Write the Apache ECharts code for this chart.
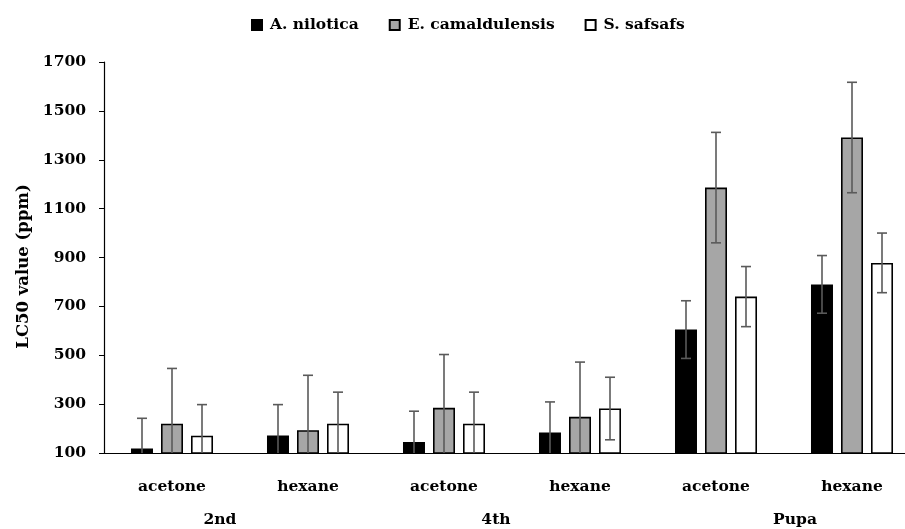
<!DOCTYPE html>
<html>
<head>
<meta charset="utf-8">
<script src="https://cdn.jsdelivr.net/npm/echarts@6/dist/echarts.min.js"></script>
<style>
  html, body { margin: 0; padding: 0; background: #fff; overflow: hidden; }
  /* the plot runs on past the right edge of the page, so the canvas is a little wider than the window */
  #chart { width: 920px; height: 529px; }
</style>
</head>
<body>
<div id="chart"></div>
<script>
// Solvent per bar group, and the larval stage each pair belongs to
const categories = ['acetone', 'hexane', 'acetone', 'hexane', 'acetone', 'hexane'];
const stages = ['2nd', '4th', 'Pupa'];
const stagePositions = [0.853, 2.882, 5.081];

// LC50 values (ppm) and their error margins
const seriesNames = ['A. nilotica', 'E. camaldulensis', 'S. safsafs'];
const niloticaLC50 = [118, 172, 145, 184, 605, 790];
const niloticaErr = [124, 126, 126, 125, 118, 118];
const camaldulensisLC50 = [220, 193, 285, 248, 1186, 1391];
const camaldulensisErr = [226, 225, 218, 224, 226, 226];
const safsafsLC50 = [171, 220, 220, 282, 740, 878];
const safsafsErr = [127, 129, 129, 128, 123, 122];

// Y axis ticks
const yMin = 100, yMax = 1700, yStep = 200;

const values = [niloticaLC50, camaldulensisLC50, safsafsLC50];
const errors = [niloticaErr, camaldulensisErr, safsafsErr];
const fills = ['#000000', '#a6a6a6', '#ffffff'];

const BAR_W = 22, BAR_GAP = 8;
const FONT = 'DejaVu Serif';

function errorSeries(k) {
  const offset = (k - 1) * (BAR_W + BAR_GAP);
  return {
    type: 'custom',
    name: seriesNames[k] + ' error',
    z: 5,
    silent: true,
    data: values[k].map((v, i) => [i, v, errors[k][i]]),
    renderItem: function (params, api) {
      const i = api.value(0), mean = api.value(1), sd = api.value(2);
      const hi = mean + sd;
      const lo = Math.max(mean - sd, yMin);
      const top = api.coord([i, hi]);
      const bot = api.coord([i, lo]);
      const x = top[0] + offset;
      const style = { stroke: '#5a5a5a', lineWidth: 1.6 };
      const children = [
        { type: 'line', shape: { x1: x, y1: top[1], x2: x, y2: bot[1] }, style: style },
        { type: 'line', shape: { x1: x - 5, y1: top[1], x2: x + 5, y2: top[1] }, style: style }
      ];
      if (mean - sd > yMin) {
        children.push({ type: 'line', shape: { x1: x - 5, y1: bot[1], x2: x + 5, y2: bot[1] }, style: style });
      }
      return { type: 'group', children: children };
    }
  };
}

const barSeries = seriesNames.map((name, k) => ({
  type: 'bar',
  name: name,
  data: values[k],
  barWidth: BAR_W,
  barGap: (BAR_GAP / BAR_W * 100).toFixed(1) + '%',
  itemStyle: { color: fills[k], borderColor: '#000', borderWidth: 1.6 }
}));

const chart = echarts.init(document.getElementById('chart'), null, { renderer: 'canvas' });
chart.setOption({
  animation: false,
  backgroundColor: '#fff',
  textStyle: { fontFamily: FONT },
  legend: {
    data: seriesNames,
    left: 246,
    top: 12,
    icon: 'rect',
    itemWidth: 10,
    itemHeight: 10,
    itemGap: 30,
    textStyle: { fontFamily: FONT, fontWeight: 'bold', fontSize: 15.5, color: '#000', padding: [0, 0, 0, 3] }
  },
  grid: { left: 104, top: 62, right: 0, height: 391, containLabel: false },
  xAxis: [
    {
      type: 'category',
      data: categories,
      axisLine: { lineStyle: { color: '#000', width: 1.2 } },
      axisTick: { show: false },
      axisLabel: { margin: 26, color: '#000', fontFamily: FONT, fontWeight: 'bold', fontSize: 15.5 }
    },
    {
      type: 'value',
      min: 0,
      max: 6,
      position: 'bottom',
      axisLine: { show: false },
      axisTick: { show: false },
      splitLine: { show: false },
      axisLabel: {
        margin: 59,
        customValues: stagePositions,
        color: '#000', fontFamily: FONT, fontWeight: 'bold', fontSize: 15.5,
        formatter: function (v) {
          let best = 0;
          stagePositions.forEach((p, j) => { if (Math.abs(p - v) < Math.abs(stagePositions[best] - v)) best = j; });
          return stages[best];
        }
      }
    }
  ],
  yAxis: {
    type: 'value',
    min: yMin,
    max: yMax,
    interval: yStep,
    name: 'LC50 value (ppm)',
    nameLocation: 'middle',
    nameGap: 68,
    nameRotate: 90,
    nameTextStyle: { fontFamily: FONT, fontWeight: 'bold', fontSize: 16.5, color: '#000', padding: [0, 18, 0, 0] },
    axisLine: { show: true, lineStyle: { color: '#000', width: 1.2 } },
    axisTick: { show: true, length: 5, lineStyle: { color: '#000' } },
    splitLine: { show: false },
    axisLabel: {
      margin: 18, color: '#000', fontFamily: FONT, fontWeight: 'bold', fontSize: 15.5,
      formatter: function (v) { return String(v); }
    }
  },
  series: barSeries.concat([0, 1, 2].map(errorSeries))
});
</script>
</body>
</html>
